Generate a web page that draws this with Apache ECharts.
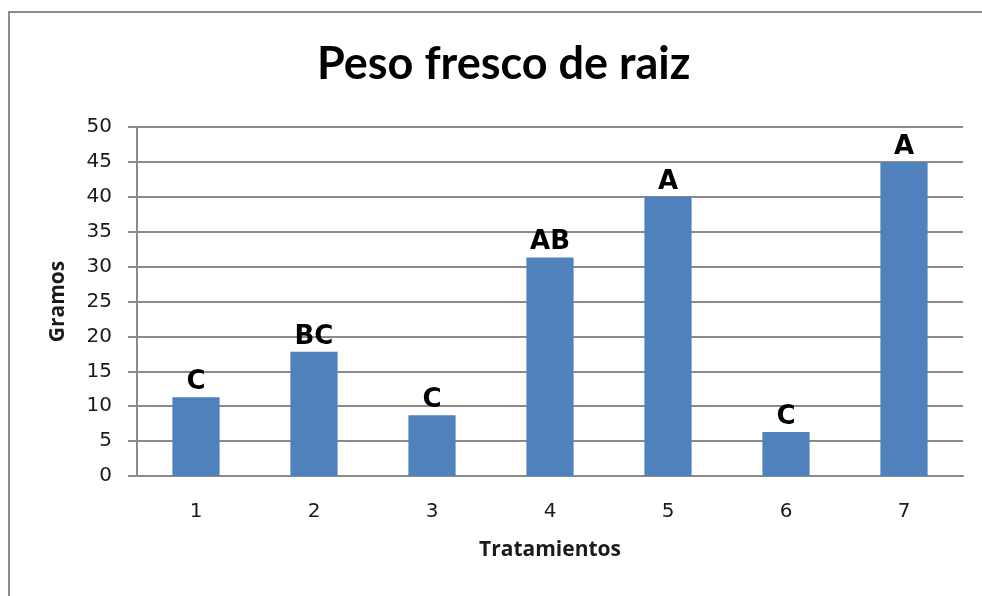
<!DOCTYPE html>
<html>
<head>
<meta charset="utf-8">
<script src="https://cdn.jsdelivr.net/npm/echarts@6/dist/echarts.min.js"></script>
<style>
  html, body { margin: 0; padding: 0; background: #fff; }
  #chart { width: 982px; height: 596px; }
</style>
</head>
<body>
<div id="chart"></div>
<script>
// datos
var tratamientos = ["1", "2", "3", "4", "5", "6", "7"];
var gramos = [11.3, 17.8, 8.7, 31.3, 40.0, 6.3, 45.0];
var letras = ["C", "BC", "C", "AB", "A", "C", "A"];

var gris = "#8a8a8a";
var myChart = echarts.init(document.getElementById("chart"));

myChart.setOption({
  animation: false,
  backgroundColor: "#fff",
  title: {
    text: "Peso fresco de raiz",
    left: 312,
    top: 37,
    textStyle: {
      fontFamily: "Lato",
      fontWeight: "bold",
      fontSize: 45,
      color: "#000"
    }
  },
  // borde del area del grafico
  graphic: [
    {
      type: "rect",
      silent: true,
      shape: { x: 9, y: 12, width: 1010, height: 620 },
      style: { fill: "none", stroke: "#8c8c8c", lineWidth: 2 }
    }
  ],
  grid: {
    left: 137,
    right: 19,
    top: 127,
    bottom: 120
  },
  xAxis: {
    type: "category",
    data: tratamientos,
    name: "Tratamientos",
    nameLocation: "middle",
    nameGap: 64,
    nameTextStyle: {
      fontFamily: "Open Sans",
      fontWeight: "bold",
      fontSize: 21,
      color: "#1a1a1a"
    },
    axisLine: { lineStyle: { color: gris, width: 2 } },
    axisTick: { show: false },
    axisLabel: {
      margin: 26,
      fontFamily: "DejaVu Sans",
      fontSize: 20,
      color: "#1a1a1a"
    }
  },
  yAxis: {
    type: "value",
    min: 0,
    max: 50,
    interval: 5,
    name: "Gramos",
    nameLocation: "middle",
    nameRotate: 90,
    nameGap: 68,
    nameTextStyle: {
      fontFamily: "Open Sans",
      fontWeight: "bold",
      fontSize: 21,
      color: "#1a1a1a"
    },
    axisLine: { show: true, lineStyle: { color: gris, width: 2 } },
    axisTick: { show: true, length: 9, lineStyle: { color: gris, width: 2 } },
    axisLabel: {
      margin: 25,
      fontFamily: "DejaVu Sans",
      fontSize: 20,
      color: "#1a1a1a"
    },
    splitLine: { lineStyle: { color: gris, width: 2 } }
  },
  series: [
    {
      type: "bar",
      data: gramos,
      barWidth: "40%",
      itemStyle: { color: "#4f81bd" },
      label: {
        show: true,
        position: "top",
        distance: 2,
        fontFamily: "DejaVu Sans",
        fontWeight: "bold",
        fontSize: 26,
        color: "#000",
        formatter: function (p) {
          return letras[p.dataIndex];
        }
      }
    }
  ]
});
</script>
</body>
</html>
